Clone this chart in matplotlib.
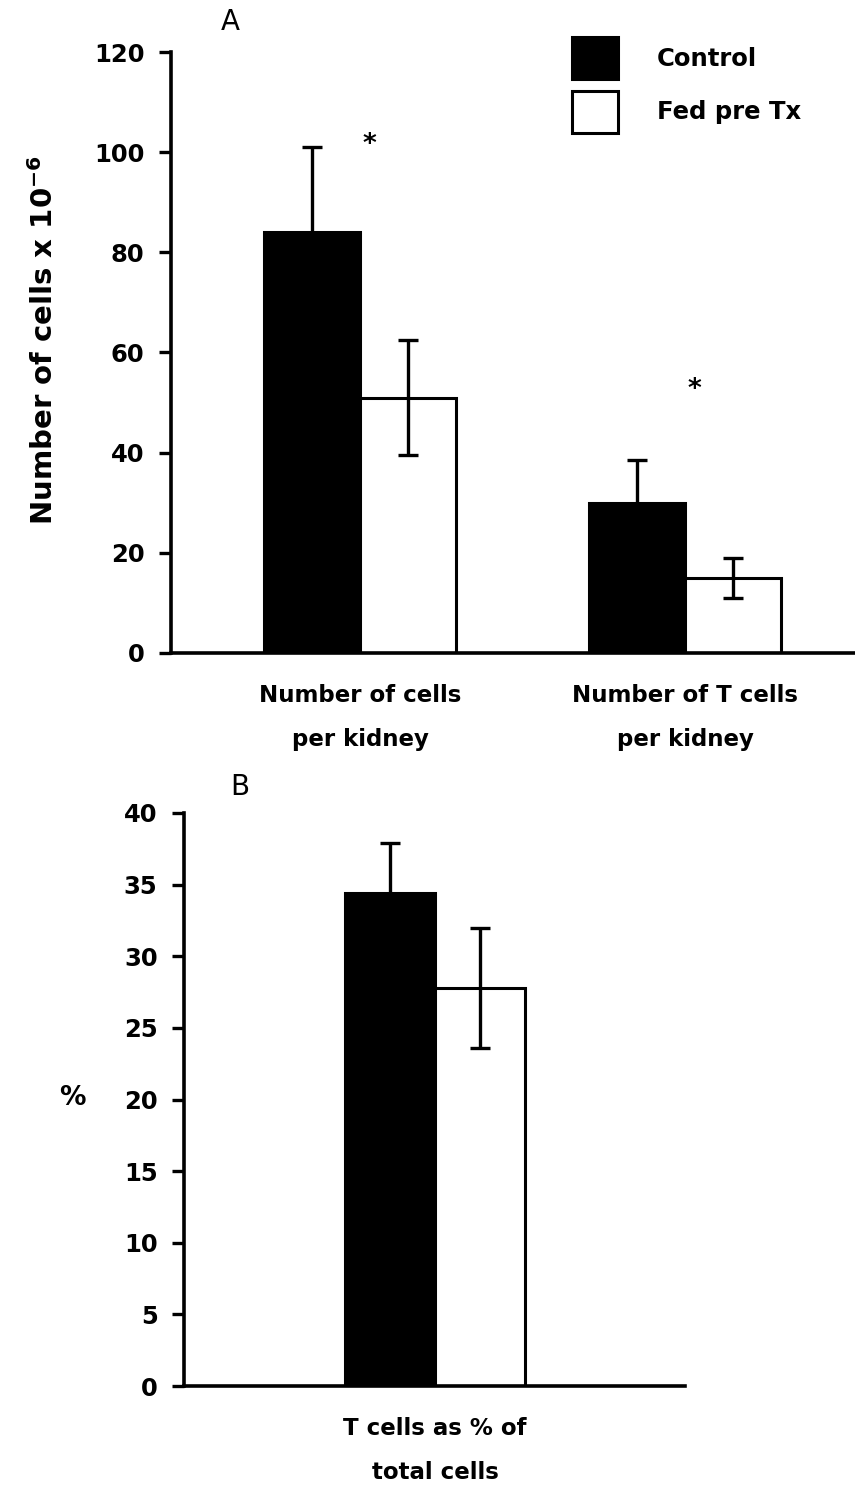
import numpy as np
import matplotlib.pyplot as plt
from matplotlib.patches import Patch

# Panel A data
groups_a = ['Number of cells\nper kidney', 'Number of T cells\nper kidney']
control_a = [84, 30]
control_a_err = [17, 8.5]
fed_a = [51, 15]
fed_a_err = [11.5, 4]
stars_a = [101.5, 52.5]

# Panel B data
groups_b = ['T cells as % of\ntotal cells']
control_b = [34.4]
control_b_err = [3.5]
fed_b = [27.8]
fed_b_err = [4.2]

W, H = 855, 1489
fig = plt.figure(figsize=(W / 100, H / 100), dpi=100)
plt.rcParams['font.family'] = 'DejaVu Sans'

def px(x0, y0, x1, y1):
    # axes rectangle from pixel coordinates (top-left origin)
    return [x0 / W, 1 - y1 / H, (x1 - x0) / W, (y1 - y0) / H]

def style(ax):
    for s in ['top', 'right']:
        ax.spines[s].set_visible(False)
    for s in ['left', 'bottom']:
        ax.spines[s].set_linewidth(2.6)
    ax.tick_params(axis='y', length=9, width=2.4, pad=10, labelsize=17.5)
    ax.tick_params(axis='x', length=0, pad=22, labelsize=16.5)
    for lab in ax.get_yticklabels() + ax.get_xticklabels():
        lab.set_fontweight('bold')

bar_kw = dict(edgecolor='black', linewidth=2.2)
err_kw = dict(ecolor='black', elinewidth=2.4, capsize=7, capthick=2.4)

# ---- Panel A ----
axA = fig.add_axes(px(171, 52, 855, 653))
x = np.arange(len(groups_a))
wa = 0.295
axA.bar(x - wa / 2, control_a, wa, yerr=control_a_err, color='black',
        error_kw=err_kw, label='Control', **bar_kw)
axA.bar(x + wa / 2, fed_a, wa, yerr=fed_a_err, color='white',
        error_kw=err_kw, label='Fed pre Tx', **bar_kw)
axA.set_xlim(-0.582, 1.523)
axA.set_ylim(0, 120)
axA.set_yticks(np.arange(0, 121, 20))
axA.set_xticks(x)
axA.set_xticklabels(groups_a, linespacing=2.2)
style(axA)
axA.set_ylabel(r'Number of cells x 10$^{\mathbf{-6}}$', fontsize=21,
               fontweight='bold')
axA.yaxis.set_label_coords((59 - 171) / 684, (653 - 340) / 601)
for xi, ys in zip(x, stars_a):
    axA.text(xi + 0.03, ys, '*', fontsize=19, fontweight='bold',
             ha='center', va='center')
fig.text(230 / W, 1 - 22 / H, 'A', fontsize=20, ha='center', va='center')

handles = [Patch(facecolor='black', edgecolor='black', linewidth=2.2),
           Patch(facecolor='white', edgecolor='black', linewidth=2.2)]
leg = fig.legend(handles, ['Control', 'Fed pre Tx'], loc='upper left',
                 bbox_to_anchor=(572 / W, 1 - 37 / H), frameon=False,
                 fontsize=17.5, handlelength=1.9, handleheight=2.3,
                 handletextpad=1.6, labelspacing=0.47, borderpad=0,
                 borderaxespad=0)
for t in leg.get_texts():
    t.set_fontweight('bold')

# ---- Panel B ----
axB = fig.add_axes(px(184, 813, 685, 1386))
xb = np.arange(len(groups_b))
wb = 0.277
axB.bar(xb - wb / 2, control_b, wb, yerr=control_b_err, color='black',
        error_kw=err_kw, **bar_kw)
axB.bar(xb + wb / 2, fed_b, wb, yerr=fed_b_err, color='white',
        error_kw=err_kw, **bar_kw)
axB.set_xlim(-0.772, 0.769)
axB.set_ylim(0, 40)
axB.set_yticks(np.arange(0, 41, 5))
axB.set_xticks(xb)
axB.set_xticklabels(groups_b, linespacing=2.2)
style(axB)
axB.set_ylabel('%', fontsize=19, fontweight='bold', rotation=0,
               va='center', ha='center')
axB.yaxis.set_label_coords((72 - 184) / 501, (1386 - 1098) / 573)
fig.text(240 / W, 1 - 787 / H, 'B', fontsize=20, ha='center', va='center')

fig.savefig('out.png', dpi=100)
